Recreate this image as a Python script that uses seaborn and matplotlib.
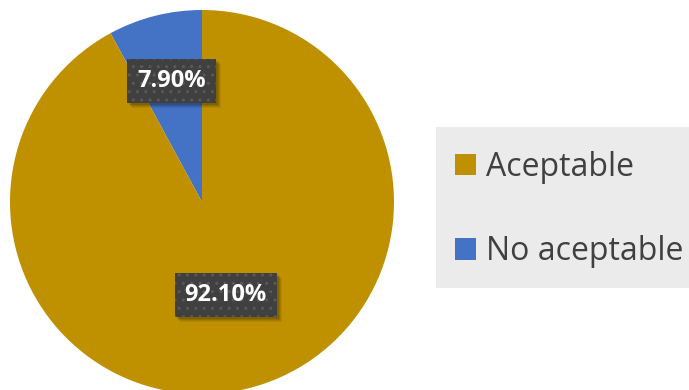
import matplotlib
matplotlib.use("Agg")
import matplotlib.pyplot as plt
import matplotlib.transforms as mtransforms
from matplotlib.patches import Patch, Rectangle
import numpy as np
import seaborn as sns

# Data
categories = ["No aceptable", "Aceptable"]
shares = [7.90, 92.10]
legend_order = ["Aceptable", "No aceptable"]
colors = {"Aceptable": "#BF9000", "No aceptable": "#4472C4"}

sns.set_theme(style="white")
plt.rcParams["font.family"] = ["Open Sans", "DejaVu Sans"]

fig = plt.figure(figsize=(6.89, 3.90), dpi=100)
fig.patch.set_facecolor("white")

W, H = 689, 390
cx, cy, r = 202, 202, 192
ax = fig.add_axes([(cx - r) / W, (H - cy - r) / H, 2 * r / W, 2 * r / H])

wedges, _ = ax.pie(
    shares,
    colors=[colors[c] for c in categories],
    startangle=90,
    counterclock=True,
    radius=1.0,
    wedgeprops=dict(linewidth=0),
)
ax.set_xlim(-1, 1)
ax.set_ylim(-1, 1)
ax.set_aspect("equal")
ax.axis("off")

# Percent labels in dark dotted boxes
label_radius = {"No aceptable": 0.65, "Aceptable": 0.50}
labels = []
for w, cat, val in zip(wedges, categories, shares):
    mid = np.deg2rad((w.theta1 + w.theta2) / 2)
    rr = label_radius[cat]
    t = ax.text(rr * np.cos(mid), rr * np.sin(mid), f"{val:.2f}%",
                ha="center", va="center", fontsize=17, fontweight="bold",
                color="white", zorder=4,
                bbox=dict(boxstyle="square,pad=0.42", facecolor="#404040",
                          edgecolor="#595959", linewidth=0, hatch=".."))
    labels.append(t)

# Soft drop shadow behind each label box
fig.canvas.draw()
for t in labels:
    bb = t.get_bbox_patch().get_window_extent()
    for off, a in [(5, 0.06), (4, 0.08), (3, 0.10), (2, 0.12)]:
        ax.add_patch(Rectangle((bb.x0 + off, bb.y0 - off), bb.width, bb.height,
                               transform=mtransforms.IdentityTransform(),
                               facecolor=(0, 0, 0, a), edgecolor="none",
                               zorder=3))

# Grey legend panel running off the right edge
fig.patches.append(Rectangle((436 / W, 1 - 288 / H), 300 / W, (288 - 127) / H,
                             transform=fig.transFigure, facecolor="#EBEBEB",
                             edgecolor="none", zorder=0))

handles = [Patch(facecolor=colors[c], edgecolor="none") for c in legend_order]
leg = fig.legend(
    handles, legend_order,
    loc="center left", bbox_to_anchor=(455 / W, 1 - 209.5 / H),
    bbox_transform=fig.transFigure, borderaxespad=0, borderpad=0,
    fontsize=23, frameon=False,
    handlelength=0.66, handleheight=0.66, handletextpad=0.31,
    labelspacing=1.62,
)
for txt in leg.get_texts():
    txt.set_color("#404040")

fig.savefig("out.png", dpi=100)
